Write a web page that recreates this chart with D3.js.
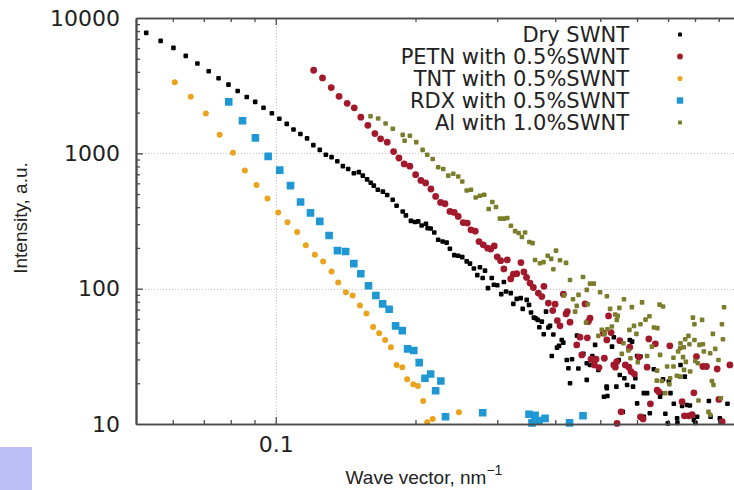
<!DOCTYPE html>
<html><head><meta charset="utf-8">
<script src="https://cdn.jsdelivr.net/npm/d3@7"></script>
<style>
html,body{margin:0;padding:0;background:#fff;}
svg{display:block;}
</style></head><body>
<svg id="chart" width="734" height="490"></svg>
<script>
// ---------------- data ----------------
const seriesNames = ["Dry SWNT", "PETN with 0.5%SWNT", "TNT with 0.5%SWNT", "RDX with 0.5%SWNT", "Al with 1.0%SWNT"];

const qDry = [0.0526,0.0565,0.0602,0.0640,0.0678,0.0717,0.0753,0.0791,0.0828,0.0866,0.0903,0.0941,0.0981,0.1018,0.1056,0.1092,0.1130,0.1168,0.1205,0.1244,0.1282,0.1319,0.1357,0.1395,0.1432,0.1473,0.1510,0.1540,0.1573,0.1602,0.1626,0.1659,0.1701,0.1738,0.1786,0.1821,0.1877,0.1907,0.1955,0.1995,0.2027,0.2062,0.2106,0.2124,0.2156,0.2195,0.2238,0.2288,0.2334,0.2372,0.2424,0.2472,0.2522,0.2578,0.2620,0.2672,0.2753,0.2717,0.2823,0.2791,0.2919,0.2950,0.2865,0.3100,0.3000,0.3060,0.3133,0.3207,0.3249,0.3304,0.3370,0.3404,0.3472,0.3512,0.3547,0.3598,0.3629,0.3667,0.3742,0.3696,0.3865,0.3821,0.3897,0.3778,0.3962,0.4131,0.4163,0.4075,0.4035,0.3932,0.4235,0.4347,0.4269,0.4304,0.4456,0.4598,0.4485,0.4676,0.4753,0.4809,0.4874,0.4953,0.4676,0.5093,0.5165,0.5348,0.5301,0.5481,0.5508,0.5635,0.5789,0.5855,0.5761,0.5712,0.5883,0.5951,0.6003,0.6104,0.6003,0.6206,0.6308,0.6393,0.6206,0.6522,0.6741,0.6827,0.7026,0.7084,0.6906,0.6991,0.7202,0.7321,0.7445,0.7606,0.7504,0.7694,0.7798,0.8085,0.8016,0.8569,0.8641,0.9049,0.9080,0.5160,0.5180,0.5416,0.9398,0.5592,0.7332,0.7955,0.6727];
const iDry = [7770,6780,6020,5250,4610,4040,3590,3220,2890,2610,2400,2170,1980,1800,1650,1500,1390,1290,1150,1060,977,937,875,804,766,713,726,684,642,607,577,538,521,492,454,410,372,348,317,311,314,293,302,280,278,260,230,223,219,197,177,175,171,159,153,141,144,126,136,120,120,107,101,112,106,91.1,95.2,92.7,77.2,84.1,85.1,70.9,82.6,75.9,66.6,61.1,60.5,58.8,57.1,51.9,51.6,67.7,53.1,46.1,45.8,41.8,39.9,37.8,36.7,31.8,29.7,30.1,25.8,20.0,45.0,33.0,25.7,28.1,27.3,31.8,38.4,25.1,21.2,15.9,18.4,43.8,37.3,29.7,23.0,21.8,41.8,40.6,36.3,19.4,18.9,21.8,31.8,31.5,14.2,16.9,16.9,12.0,11.3,25.4,16.9,21.4,20.6,16.9,11.9,10.1,14.1,11.0,27.3,22.4,13.6,13.8,13.7,11.3,10.2,14.8,11.3,11.0,10.4,18.9,16.1,18.9,14.1,12.3,10.2,10.7,15.9];

const qPetn = [0.1207,0.1261,0.1317,0.1369,0.1425,0.1476,0.1525,0.1579,0.1635,0.1682,0.1738,0.1794,0.1842,0.1891,0.1945,0.2001,0.2054,0.2103,0.2159,0.2210,0.2265,0.2315,0.2372,0.2424,0.2472,0.2534,0.2586,0.2633,0.2690,0.2740,0.2799,0.2861,0.2904,0.2956,0.3000,0.3051,0.3153,0.3100,0.3374,0.3249,0.3207,0.3304,0.3424,0.3469,0.3529,0.3588,0.3782,0.3678,0.3742,0.4163,0.3865,0.3997,0.3951,0.4247,0.4220,0.4041,0.4095,0.4304,0.4638,0.4753,0.4714,0.4523,0.4690,0.4450,0.4563,0.4777,0.4897,0.4856,0.4970,0.5103,0.5211,0.5276,0.5508,0.5789,0.6362,0.6572,0.7060,0.5348,0.5389,0.5662,0.5761,0.5826,0.5923,0.6054,0.6308,0.6629,0.6685,0.8057,0.8318,0.8468,0.8929,0.9510,0.6412,0.5543,0.6104,0.6182,0.7504,0.7955,0.7591,0.7759,0.7886,0.9005,0.9152,0.5435,0.5427,0.5078,0.5165];
const iPetn = [4110,3610,3060,2640,2340,2170,1850,1610,1400,1280,1210,1030,924,835,804,695,631,604,545,480,434,424,372,366,342,308,305,272,266,223,211,199,196,207,172,161,163,140,156,128,118,129,133,121,110,102,104,92.7,87.4,91.1,78.2,76.8,68.9,67.7,65.1,58.1,53.1,56.5,77.2,60.5,57.1,43.8,43.3,38.4,32.4,30.1,30.1,27.3,26.1,30.6,62.9,47.4,41.3,36.9,42.5,39.1,37.8,27.3,26.3,27.3,26.3,24.4,23.4,31.2,26.3,17.8,17.3,31.5,26.6,26.6,25.5,27.3,14.1,12.3,11.3,10.9,14.6,17.0,11.5,11.5,11.7,15.2,10.4,10.1,28.9,46.9,41.8];

const qTnt = [0.0606,0.0656,0.0707,0.0757,0.0809,0.0858,0.0909,0.0960,0.1012,0.1060,0.1112,0.1161,0.1214,0.1265,0.1319,0.1363,0.1416,0.1464,0.1518,0.1568,0.1621,0.1670,0.1720,0.1770,0.1821,0.1873,0.1919,0.1978,0.2024,0.2078,0.2120,0.2178,0.2481];
const iTnt = [3350,2620,1970,1370,1010,748,583,464,366,309,262,209,178,159,134,111,94.2,89.0,75.0,65.5,52.2,46.9,41.8,36.9,27.3,26.3,21.4,19.7,19.1,14.8,10.3,10.9,12.2];

const qRdx = [0.0792,0.0848,0.0904,0.0963,0.1020,0.1076,0.1131,0.1188,0.1244,0.1303,0.1358,0.1414,0.1473,0.1525,0.1584,0.1643,0.1699,0.1755,0.1812,0.1873,0.1923,0.1983,0.2037,0.2096,0.2156,0.2210,0.2268,0.2321,0.2791,0.3512,0.3619,0.3564,0.3691,0.3803,0.4294,0.4590];
const iRdx = [2400,1740,1300,950,751,577,437,363,314,247,191,188,153,129,105,89.0,77.2,70.5,53.1,49.0,35.9,34.9,28.4,21.8,23.4,17.6,20.8,11.3,12.1,11.8,11.6,10.2,10.6,11.0,10.2,11.5];

const qAl = [0.1600,0.1662,0.1724,0.1787,0.1877,0.1945,0.1895,0.2007,0.2072,0.2120,0.2178,0.2238,0.2295,0.2353,0.2412,0.2472,0.2522,0.2578,0.2633,0.2696,0.2753,0.2812,0.2875,0.2928,0.2981,0.3041,0.3100,0.3153,0.3211,0.3277,0.3336,0.3391,0.3444,0.3517,0.3574,0.3619,0.3709,0.3774,0.3853,0.3920,0.4015,0.3962,0.4095,0.4220,0.4304,0.4176,0.4368,0.4450,0.4489,0.4590,0.4676,0.4753,0.4842,0.4995,0.5168,0.5250,0.5384,0.5624,0.5497,0.5849,0.6152,0.6711,0.6827,0.6381,0.6260,0.5911,0.5778,0.5427,0.5039,0.5180,0.5296,0.5103,0.4953,0.5608,0.5565,0.5749,0.6528,0.6639,0.6459,0.6728,0.6787,0.6900,0.7188,0.7431,0.7620,0.7744,0.7782,0.7916,0.7978,0.8178,0.8318,0.8624,0.8742,0.8844,0.8987,0.9143,0.9187,0.9240,0.7188,0.7431,0.7576,0.7809,0.8008,0.8113,0.8700,0.8768,0.9094,0.8624,0.8552,0.7071,0.7046,0.7311,0.6619,0.8138,0.5454,0.6104,0.5982,0.6024,0.6308,0.6629,0.6967,0.7358,0.7445,0.7569,0.7978,0.7540,0.7645,0.8287,0.8359,0.4414,0.4700,0.4660,0.5809];
const iAl = [1880,1810,1660,1520,1370,1350,1240,1210,1060,977,908,790,766,684,707,675,620,532,538,472,486,494,388,437,401,329,329,333,292,266,258,241,260,221,217,163,154,157,175,166,191,139,162,155,116,89.2,83.6,74.6,90.0,122,98.0,109,109,94.0,88.0,70.9,64.5,83.6,72.1,73.0,79.2,76.2,73.8,62.6,59.1,53.1,49.6,58.8,49.6,50.1,52.5,46.3,44.8,39.5,33.0,34.9,51.6,51.1,37.3,32.4,20.8,16.9,30.9,36.3,42.3,44.8,38.8,61.1,54.6,38.4,38.8,33.3,46.3,35.9,29.7,54.6,42.3,72.8,26.6,22.4,25.1,24.4,29.2,28.1,20.8,19.4,15.5,11.7,12.3,21.8,19.7,22.7,20.9,14.9,62.9,54.6,46.3,28.6,31.8,24.8,26.6,34.3,39.5,36.9,41.8,31.2,28.8,58.8,34.3,67.7,76.8,56.1,30.6];

const yTickValues = [10, 100, 1000, 10000];
const yMinorValues = [20,30,40,50,60,70,80,90,200,300,400,500,600,700,800,900,2000,3000,4000,5000,6000,7000,8000,9000];
const xTickValues = [0.1];
const xMinorValues = [0.06,0.07,0.08,0.09,0.2,0.3,0.4,0.5,0.6,0.7,0.8,0.9];
const xGridValues = [0.1];
const yGridValues = [100, 1000];
const xTitle = "Wave vector, nm";
const xTitleSup = "\u22121";
const yTitle = "Intensity, a.u.";

// ---------------- chart ----------------
(function () {
const svg = d3.select("#chart");
const W = 734, H = 490;
const pL = 136, pR = 740, pT = 18, pB = 424;

const x = d3.scaleLog().domain([0.05, 1]).range([pL, pR]);
const y = d3.scaleLog().domain([10, 10000]).range([pB, pT]);

svg.append("rect").attr("x", 0).attr("y", 0).attr("width", W).attr("height", H).attr("fill", "#fff");

// lavender block bottom-left
svg.append("rect").attr("x", 0).attr("y", 447).attr("width", 32).attr("height", 43).attr("fill", "#bdbdf7");

// grid
const grid = svg.append("g").attr("stroke", "#c4c4c4").attr("stroke-width", 1).attr("stroke-dasharray", "1,2");
grid.selectAll("line.h").data(yGridValues).join("line").attr("class", "h")
  .attr("x1", pL).attr("x2", pR).attr("y1", d => Math.round(y(d)) + 0.5).attr("y2", d => Math.round(y(d)) + 0.5);
grid.selectAll("line.v").data(xGridValues).join("line").attr("class", "v")
  .attr("y1", pT).attr("y2", pB).attr("x1", d => Math.round(x(d)) + 0.5).attr("x2", d => Math.round(x(d)) + 0.5);

// series
const series = [
  {name: seriesNames[0], q: qDry, v: iDry, color: "#000000", shape: "sq", size: 4.6},
  {name: seriesNames[1], q: qPetn, v: iPetn, color: "#a3192c", shape: "ci", size: 3.4},
  {name: seriesNames[2], q: qTnt, v: iTnt, color: "#eaa31e", shape: "ci", size: 3.0},
  {name: seriesNames[3], q: qRdx, v: iRdx, color: "#1f97d3", shape: "sq", size: 7.6},
  {name: seriesNames[4], q: qAl, v: iAl, color: "#7c7d2c", shape: "sq", size: 4.6}
];

const pts = svg.append("g");
series.forEach(s => {
  const data = s.q.map((q, i) => ({q, v: s.v[i]}));
  const g = pts.append("g").attr("fill", s.color);
  if (s.shape === "sq") {
    g.selectAll("rect").data(data).join("rect")
      .attr("x", d => x(d.q) - s.size / 2).attr("y", d => y(d.v) - s.size / 2)
      .attr("width", s.size).attr("height", s.size).attr("rx", s.size < 6 ? 1 : 0.5);
  } else {
    g.selectAll("circle").data(data).join("circle")
      .attr("cx", d => x(d.q)).attr("cy", d => y(d.v)).attr("r", s.size);
  }
});

// axes
const axisColor = "#4a4a4a";
function styleAxis(g) {
  g.select(".domain").attr("stroke", axisColor).attr("stroke-width", 1.6);
  g.selectAll(".tick line").attr("stroke", axisColor).attr("stroke-width", 1.3);
  g.selectAll(".tick text").attr("fill", "#222").attr("font-family", "DejaVu Sans").attr("font-size", 22);
}

svg.append("g").attr("transform", `translate(${pL},0)`)
  .call(d3.axisLeft(y).tickValues(yMinorValues).tickSize(-4).tickSizeOuter(0).tickFormat(""))
  .call(styleAxis);
svg.append("g").attr("transform", `translate(${pL},0)`)
  .call(d3.axisLeft(y).tickValues(yTickValues.filter(v => v > 10 && v < 10000)).tickSize(-7).tickSizeOuter(0).tickPadding(16).tickFormat(d3.format("d")))
  .call(styleAxis);
svg.append("g").attr("transform", `translate(${pL},0)`)
  .call(d3.axisLeft(y).tickValues([10, 10000]).tickSize(0).tickSizeOuter(0).tickPadding(16).tickFormat(d3.format("d")))
  .call(styleAxis);

svg.append("g").attr("transform", `translate(0,${pB})`)
  .call(d3.axisBottom(x).tickValues(xMinorValues).tickSize(-4).tickSizeOuter(0).tickFormat(""))
  .call(styleAxis);
svg.append("g").attr("transform", `translate(0,${pB})`)
  .call(d3.axisBottom(x).tickValues(xTickValues).tickSize(-7).tickSizeOuter(0).tickPadding(12).tickFormat(d3.format(".1f")))
  .call(styleAxis);

svg.append("g").attr("transform", `translate(0,${pT})`)
  .call(d3.axisTop(x).tickValues(xMinorValues).tickSize(-4).tickSizeOuter(0).tickFormat(""))
  .call(styleAxis);
svg.append("g").attr("transform", `translate(0,${pT})`)
  .call(d3.axisTop(x).tickValues(xTickValues).tickSize(-7).tickSizeOuter(0).tickFormat(""))
  .call(styleAxis);

// axis titles
svg.append("text")
  .attr("transform", "translate(27,218) rotate(-90)")
  .attr("text-anchor", "middle")
  .attr("font-family", "'Liberation Sans Narrow', 'Liberation Sans', sans-serif")
  .attr("font-size", 19).attr("fill", "#222")
  .text(yTitle);

const xt = svg.append("text")
  .attr("x", 424).attr("y", 484)
  .attr("text-anchor", "middle")
  .attr("font-family", "'Liberation Sans Narrow', 'Liberation Sans', sans-serif")
  .attr("font-size", 19).attr("fill", "#222");
xt.append("tspan").text(xTitle);
xt.append("tspan").attr("dy", -9).attr("font-size", 14).text(xTitleSup);

// legend
const legend = svg.append("g");
series.forEach((s, i) => {
  const cy = 34.5 + i * 22;
  legend.append("text")
    .attr("x", 629).attr("y", cy + 7.6)
    .attr("text-anchor", "end")
    .attr("font-family", "DejaVu Sans").attr("font-size", 21).attr("fill", "#222")
    .text(s.name);
  const sz = s.shape === "sq" ? (s.size > 6 ? 6.5 : 4) : s.size * 0.85;
  if (s.shape === "sq") {
    legend.append("rect").attr("x", 680 - sz / 2).attr("y", cy - sz / 2)
      .attr("width", sz).attr("height", sz).attr("fill", s.color).attr("rx", 0.8);
  } else {
    legend.append("circle").attr("cx", 680).attr("cy", cy).attr("r", sz).attr("fill", s.color);
  }
});
})();
</script>
</body></html>
